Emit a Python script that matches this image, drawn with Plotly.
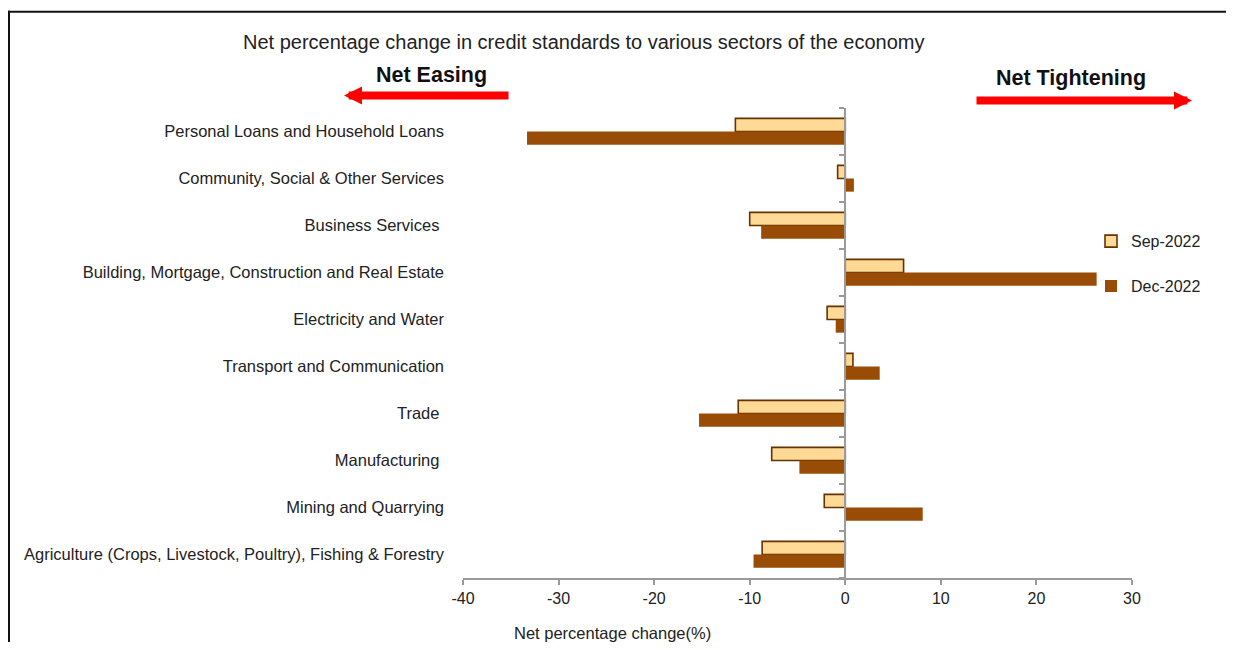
import plotly.graph_objects as go

categories = [
    "Personal Loans and Household Loans",
    "Community, Social & Other Services",
    "Business Services ",
    "Building, Mortgage, Construction and Real Estate",
    "Electricity and Water",
    "Transport and Communication",
    "Trade ",
    "Manufacturing ",
    "Mining and Quarrying",
    "Agriculture (Crops, Livestock, Poultry), Fishing & Forestry",
]
sep_2022 = [-11.5, -0.8, -10.0, 6.1, -1.9, 0.8, -11.2, -7.7, -2.2, -8.7]
dec_2022 = [-33.3, 0.9, -8.8, 26.3, -1.0, 3.6, -15.3, -4.8, 8.1, -9.6]
series_names = ["Sep-2022", "Dec-2022"]
x_ticks = [-40, -30, -20, -10, 0, 10, 20, 30]

FONT = "Liberation Sans, Arial, sans-serif"
OFF = 8  # page body offset
W, H = 1234 - 2 * OFF, 650 - 2 * OFF
L, R, T, B = 463, 1132, 107.5, 578.5  # plot area in screen pixels

def px_x(p):
    return (p - L) / (R - L)

def px_y(p):
    return (B - p) / (B - T)

fig = go.Figure()
fig.add_trace(go.Bar(
    y=categories, x=sep_2022, name=series_names[0], orientation="h",
    marker=dict(color="#FFDA96", line=dict(color="#663300", width=1.6)),
    legendgroup="a",
))
fig.add_trace(go.Bar(
    y=categories, x=dec_2022, name=series_names[1], orientation="h",
    marker=dict(color="#994C05", line=dict(color="#994C05", width=0)),
    legendgroup="b",
))

n = len(categories)
fig.update_layout(
    width=W, height=H,
    margin=dict(l=L - OFF, r=W - (R - OFF), t=T - OFF, b=H - (B - OFF), pad=0),
    paper_bgcolor="white", plot_bgcolor="white",
    barmode="group", bargap=0.44, bargroupgap=0,
    font=dict(family=FONT, size=16, color="#222222"),
    xaxis=dict(
        range=[x_ticks[0], x_ticks[-1]], tickvals=x_ticks,
        ticktext=[str(v) for v in x_ticks],
        showgrid=False, zeroline=False,
        showline=True, linecolor="#9a9a9a", linewidth=2,
        ticks="outside", ticklen=5, tickcolor="#9a9a9a", tickwidth=1.5,
        tickfont=dict(size=16, color="#222222"),
        domain=[0, 1],
    ),
    yaxis=dict(
        type="category", categoryorder="array", categoryarray=categories,
        range=[n - 0.5, -0.5],
        showgrid=False, zeroline=False, showline=False, ticks="",
        ticklabelstandoff=18,
        tickfont=dict(size=16.5, color="#222222"),
    ),
    yaxis2=dict(
        overlaying="y", anchor="free",
        position=(0 - x_ticks[0]) / (x_ticks[-1] - x_ticks[0]),
        range=[n - 0.5, -0.5],
        tickvals=[i - 0.5 for i in range(n + 1)],
        showticklabels=False, showgrid=False, zeroline=False,
        showline=True, linecolor="#9a9a9a", linewidth=2,
        ticks="outside", ticklen=5, tickcolor="#9a9a9a", tickwidth=1.5,
    ),
    legend=dict(
        x=px_x(1091), y=px_y(224), xanchor="left", yanchor="top",
        font=dict(size=16, color="#222222"),
        tracegroupgap=21, bgcolor="rgba(0,0,0,0)",
        itemwidth=30,
    ),
    showlegend=True,
)

# invisible trace to activate yaxis2
fig.add_trace(go.Scatter(x=[None], y=[None], yaxis="y2", showlegend=False, hoverinfo="skip"))

ann = []
ann.append(dict(text="Net percentage change in credit standards to various sectors of the economy",
                x=px_x(584), y=px_y(41), xref="paper", yref="paper", showarrow=False,
                font=dict(size=20, color="#222222", family=FONT), xanchor="center", yanchor="middle"))
ann.append(dict(text="<b>Net Easing</b>", x=px_x(431), y=px_y(74), xref="paper", yref="paper",
                showarrow=False, font=dict(size=21.5, color="#111111", family=FONT),
                xanchor="center", yanchor="middle"))
ann.append(dict(text="<b>Net Tightening</b>", x=px_x(1071), y=px_y(77), xref="paper", yref="paper",
                showarrow=False, font=dict(size=21.5, color="#111111", family=FONT),
                xanchor="center", yanchor="middle"))
ann.append(dict(text="", x=px_x(344), y=px_y(95), xref="paper", yref="paper",
                showarrow=True, ax=166, ay=0, axref="pixel", ayref="pixel",
                arrowcolor="#FF0000", arrowwidth=8, arrowhead=2, arrowsize=0.45))
ann.append(dict(text="", x=px_x(1192), y=px_y(100), xref="paper", yref="paper",
                showarrow=True, ax=-217, ay=0, axref="pixel", ayref="pixel",
                arrowcolor="#FF0000", arrowwidth=8, arrowhead=2, arrowsize=0.45))
ann.append(dict(text="Net percentage change(%)", x=px_x(612), y=px_y(634), xref="paper", yref="paper",
                showarrow=False, font=dict(size=16.5, color="#222222", family=FONT),
                xanchor="center", yanchor="middle"))
fig.update_layout(annotations=ann)

# frame lines (top and left) around the figure
fig.add_shape(type="line", xref="paper", yref="paper",
              x0=px_x(8), x1=px_x(1240), y0=px_y(11), y1=px_y(11),
              line=dict(color="#111111", width=2), layer="below")
fig.add_shape(type="line", xref="paper", yref="paper",
              x0=px_x(9), x1=px_x(9), y0=px_y(10), y1=px_y(700),
              line=dict(color="#111111", width=2), layer="below")

fig.write_html("out.html")
